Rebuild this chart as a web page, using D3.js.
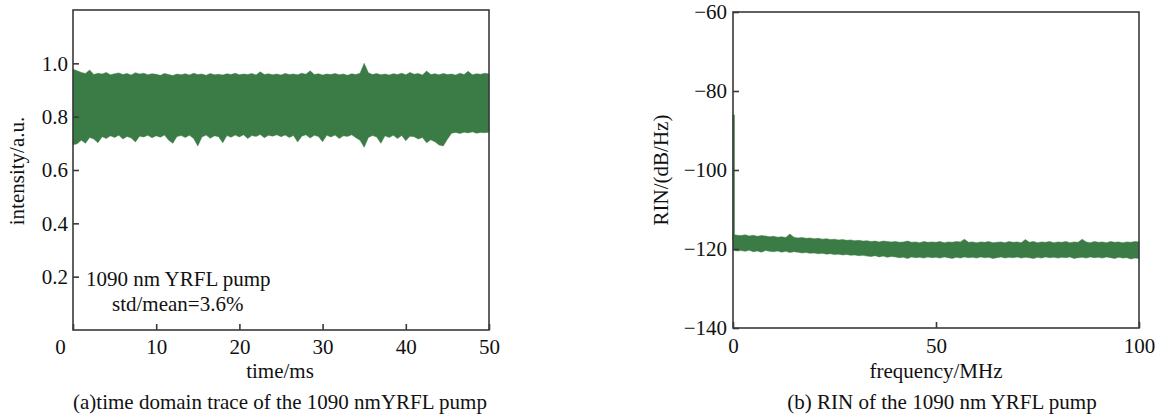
<!DOCTYPE html>
<html><head><meta charset="utf-8">
<script src="https://cdn.jsdelivr.net/npm/d3@7"></script>
<style>
html,body{margin:0;padding:0;background:#fff;}
svg text{font-family:"Liberation Serif","Times New Roman",serif;fill:#111;}
</style></head>
<body><svg id="c" width="1175" height="418"></svg>
<script>
// ---- Panel (a): time-domain trace envelope (sampled every 0.5 ms) ----
const timeMs = d3.range(0, 50.0001, 0.5).map(v => +v.toFixed(1));
const intensityUpper = [
 0.978,0.972,0.966,0.962,0.975,0.958,0.963,0.960,0.966,0.957,
 0.961,0.964,0.958,0.962,0.956,0.965,0.960,0.963,0.957,0.961,
 0.959,0.955,0.962,0.958,0.954,0.960,0.957,0.961,0.956,0.963,
 0.958,0.960,0.955,0.962,0.957,0.959,0.956,0.961,0.958,0.963,
 0.957,0.960,0.958,0.962,0.956,0.968,0.958,0.961,0.957,0.960,
 0.956,0.962,0.958,0.960,0.957,0.963,0.959,0.972,0.958,0.961,
 0.956,0.960,0.958,0.962,0.957,0.960,0.955,0.961,0.958,0.963,
 1.000,0.965,0.958,0.962,0.957,0.960,0.956,0.961,0.958,0.963,
 0.957,0.966,0.959,0.962,0.956,0.971,0.958,0.961,0.957,0.962,
 0.958,0.960,0.956,0.963,0.958,0.970,0.957,0.961,0.959,0.963,
 0.960];
const intensityLower = [
 0.695,0.698,0.712,0.700,0.722,0.716,0.702,0.725,0.718,0.728,
 0.722,0.730,0.716,0.726,0.720,0.705,0.727,0.724,0.730,0.721,
 0.728,0.723,0.731,0.712,0.700,0.726,0.729,0.722,0.730,0.718,
 0.690,0.724,0.731,0.719,0.728,0.725,0.702,0.729,0.723,0.731,
 0.724,0.732,0.718,0.729,0.726,0.733,0.721,0.730,0.727,0.732,
 0.725,0.731,0.722,0.729,0.705,0.727,0.732,0.720,0.730,0.726,
 0.706,0.730,0.724,0.731,0.718,0.728,0.726,0.732,0.721,0.712,
 0.685,0.722,0.729,0.724,0.700,0.728,0.722,0.730,0.718,0.729,
 0.710,0.727,0.725,0.716,0.722,0.702,0.713,0.706,0.694,0.690,
 0.715,0.738,0.741,0.737,0.742,0.739,0.743,0.738,0.741,0.740,
 0.742];
const xTicksA = [0,10,20,30,40,50];
const yTicksA = [0.2,0.4,0.6,0.8,1.0];

// ---- Panel (b): RIN spectrum envelope (sampled every 1 MHz) ----
const freqMHz = d3.range(0, 101, 1);
const rinUpper = [
 -116.3,-116.5,-116.6,-116.4,-116.7,-116.5,-116.8,-116.6,-116.7,-116.9,
 -116.8,-117.0,-116.9,-117.1,-116.2,-117.0,-117.2,-117.1,-117.3,-117.2,
 -117.4,-117.3,-117.5,-117.4,-117.6,-117.5,-117.7,-117.6,-117.8,-117.7,
 -117.9,-117.8,-118.0,-117.9,-118.1,-118.0,-118.2,-118.0,-118.1,-118.2,
 -118.1,-118.3,-118.2,-118.0,-118.3,-118.2,-118.4,-118.1,-118.3,-118.2,
 -118.3,-118.1,-118.4,-118.2,-118.3,-118.1,-118.2,-117.5,-118.3,-118.2,
 -118.4,-118.2,-118.3,-118.1,-118.4,-118.3,-118.2,-118.4,-118.1,-118.3,
 -118.2,-118.4,-117.6,-118.3,-118.1,-118.4,-118.2,-118.3,-118.1,-118.4,
 -118.2,-118.3,-118.1,-118.4,-118.2,-118.3,-117.5,-118.2,-118.4,-118.1,
 -118.3,-118.2,-118.4,-118.1,-118.3,-118.2,-118.4,-118.2,-118.3,-118.1,
 -118.2];
const rinLower = [
 -120.3,-120.5,-120.4,-120.6,-120.3,-120.7,-120.5,-120.8,-120.4,-120.6,
 -120.7,-120.5,-120.8,-120.6,-120.9,-120.7,-120.8,-121.0,-120.9,-121.1,
 -121.0,-121.2,-121.1,-121.3,-121.2,-121.4,-121.3,-121.5,-121.4,-121.6,
 -121.5,-121.7,-121.6,-121.8,-121.9,-121.7,-122.0,-121.8,-122.1,-121.9,
 -122.0,-122.2,-122.1,-122.4,-122.0,-122.2,-122.1,-122.3,-122.0,-122.2,
 -122.1,-122.3,-122.0,-122.2,-122.4,-122.1,-122.3,-122.0,-122.2,-122.1,
 -122.3,-122.0,-122.2,-122.1,-122.4,-122.2,-122.0,-122.3,-122.1,-122.2,
 -122.0,-122.3,-122.1,-122.2,-122.4,-122.1,-122.3,-122.0,-122.2,-122.1,
 -122.3,-122.1,-122.2,-122.0,-122.4,-122.2,-122.1,-122.3,-122.0,-122.2,
 -122.1,-122.3,-122.0,-122.2,-122.4,-122.1,-122.3,-122.2,-122.5,-122.3,
 -122.4];
const spikeFreq = [0.15];
const spikeTop = [-86];
const spikeBottom = [-118];
const xTicksB = [0,50,100];
const yTicksB = [-60,-80,-100,-120,-140];

const GREEN = "#3b7b45";
const AXIS = "#3a3a3a";
const FS = 21;
const svg = d3.select("#c");

function frame(g, x, y) {
  const [x0,x1] = x.range(), [y1,y0] = y.range();
  g.append("rect").attr("x",x0).attr("y",y0).attr("width",x1-x0).attr("height",y1-y0)
    .attr("fill","none").attr("stroke",AXIS).attr("stroke-width",1.6);
}

// ---------- Panel A ----------
{
  const x = d3.scaleLinear().domain([0,50]).range([73,489]);
  const y = d3.scaleLinear().domain([0,1.2]).range([330,10]);
  const g = svg.append("g");
  const data = timeMs.map((t,i)=>({t, hi:intensityUpper[i], lo:intensityLower[i]}));
  g.append("path").datum(data)
    .attr("d", d3.area().x(d=>x(d.t)).y0(d=>y(d.lo)).y1(d=>y(d.hi)))
    .attr("fill",GREEN).attr("stroke",GREEN).attr("stroke-width",0.8).attr("stroke-opacity",0.6);
  frame(g,x,y);
  const ya = g.append("g").attr("transform",`translate(${x(0)},0)`)
    .call(d3.axisLeft(y).tickValues(yTicksA).tickSize(-6).tickPadding(5).tickFormat(d3.format(".1f")));
  ya.select(".domain").remove();
  ya.selectAll("line").attr("stroke",AXIS).attr("stroke-width",1.6);
  ya.selectAll("text").attr("font-size",FS).attr("font-family","Liberation Serif").attr("fill","#111");
  const xa = g.append("g").attr("transform",`translate(0,${y(0)})`)
    .call(d3.axisBottom(x).tickValues(xTicksA).tickSize(-6).tickPadding(9).tickFormat(d3.format("d")));
  xa.select(".domain").remove();
  xa.selectAll("line").attr("stroke",AXIS).attr("stroke-width",1.6);
  xa.selectAll("text").attr("font-size",FS).attr("font-family","Liberation Serif").attr("fill","#111");
  xa.selectAll(".tick").filter(d=>d===0).select("text").attr("dx",-13);
  g.append("text").attr("x",280).attr("y",378).attr("text-anchor","middle").attr("font-size",FS).text("time/ms");
  g.append("text").attr("transform","translate(24,171) rotate(-90)").attr("text-anchor","middle").attr("font-size",FS).text("intensity/a.u.");
  g.append("text").attr("x",86).attr("y",286).attr("font-size",FS).text("1090 nm YRFL pump");
  g.append("text").attr("x",112).attr("y",311).attr("font-size",FS).text("std/mean=3.6%");
  g.append("text").attr("x",280).attr("y",409).attr("text-anchor","middle").attr("font-size",FS).text("(a)time domain trace of the 1090 nmYRFL pump");
}

// ---------- Panel B ----------
{
  const x = d3.scaleLinear().domain([0,100]).range([733,1139]);
  const y = d3.scaleLinear().domain([-140,-60]).range([328,12]);
  const g = svg.append("g");
  const data = freqMHz.map((f,i)=>({f, hi:rinUpper[i], lo:rinLower[i]}));
  g.append("path").datum(data)
    .attr("d", d3.area().x(d=>x(d.f)).y0(d=>y(d.lo)).y1(d=>y(d.hi)))
    .attr("fill",GREEN).attr("stroke",GREEN).attr("stroke-width",0.8).attr("stroke-opacity",0.6);
  g.selectAll("line.spike").data(spikeFreq).enter().append("line").attr("class","spike")
    .attr("x1",d=>x(d)).attr("x2",d=>x(d))
    .attr("y1",(d,i)=>y(spikeTop[i])).attr("y2",(d,i)=>y(spikeBottom[i]))
    .attr("stroke",GREEN).attr("stroke-width",2.2);
  frame(g,x,y);
  const ya = g.append("g").attr("transform",`translate(${x(0)},0)`)
    .call(d3.axisLeft(y).tickValues(yTicksB).tickSize(-6).tickPadding(6).tickFormat(d3.format("d")));
  ya.select(".domain").remove();
  ya.selectAll("line").attr("stroke",AXIS).attr("stroke-width",1.6);
  ya.selectAll("text").attr("font-size",FS).attr("font-family","Liberation Serif").attr("fill","#111");
  const xa = g.append("g").attr("transform",`translate(0,${y(-140)})`)
    .call(d3.axisBottom(x).tickValues(xTicksB).tickSize(-6).tickPadding(10).tickFormat(d3.format("d")));
  xa.select(".domain").remove();
  xa.selectAll("line").attr("stroke",AXIS).attr("stroke-width",1.6);
  xa.selectAll("text").attr("font-size",FS).attr("font-family","Liberation Serif").attr("fill","#111");
  g.append("text").attr("x",936).attr("y",378).attr("text-anchor","middle").attr("font-size",FS).text("frequency/MHz");
  g.append("text").attr("transform","translate(668,170) rotate(-90)").attr("text-anchor","middle").attr("font-size",FS).text("RIN/(dB/Hz)");
  g.append("text").attr("x",942).attr("y",409).attr("text-anchor","middle").attr("font-size",FS).text("(b) RIN of the 1090 nm YRFL pump");
}
</script></body></html>
